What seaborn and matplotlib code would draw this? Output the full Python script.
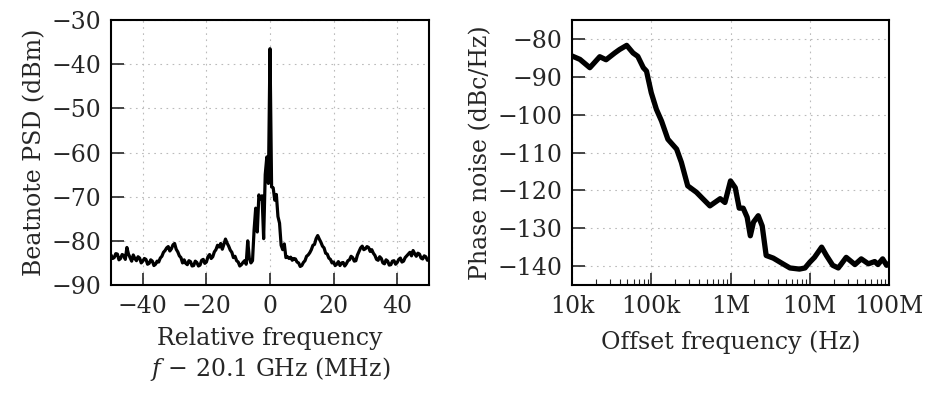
import numpy as np
import pandas as pd
import matplotlib
matplotlib.use("Agg")
import matplotlib.pyplot as plt
import matplotlib.ticker as ticker
import seaborn as sns

# beatnote spectrum: relative frequency (MHz), 0.5 MHz steps, vs PSD (dBm)
rel_freq = np.arange(-50, 50.01, 0.5)
psd = [
    # -50 ... -8.5
    -83.2, -84.0, -83.8, -82.9, -83.0, -84.3, -84.0, -83.1, -83.3, -84.2,
    -81.5, -83.0, -83.8, -84.6, -83.2, -84.0, -84.5, -83.6, -83.9, -85.0,
    -84.6, -84.0, -84.2, -85.3, -85.1, -84.3, -84.6, -85.6, -85.3, -84.6,
    -84.8, -83.9, -83.5, -82.6, -82.2, -81.6, -81.3, -82.3, -81.8, -80.9,
    -80.6, -81.9, -82.5, -83.4, -83.8, -85.0, -84.3, -85.1, -85.4, -84.5,
    -84.7, -85.7, -85.6, -84.6, -84.9, -85.7, -85.5, -84.4, -84.2, -85.1,
    -84.8, -83.6, -83.1, -84.0, -83.6, -82.5, -82.0, -81.0, -81.4, -80.6,
    -81.9, -80.8, -79.6, -80.5, -81.2, -82.1, -82.6, -83.8, -83.5, -84.5,
    -84.8, -85.7, -85.4, -84.9,
    # -8 ... 5
    -84.5, -85.3, -80.0, -84.0, -85.0, -84.5, -77.5, -72.6, -78.0, -69.6,
    -70.5, -69.8, -79.5, -65.0, -61.0, -67.0, -36.5, -67.8, -68.0, -70.8,
    -69.5, -74.5, -76.0, -81.0, -82.0, -80.7, -83.8,
    # 5.5 ... 50
    -83.6, -84.0, -83.7, -84.4, -84.0, -84.1, -84.8, -85.0, -85.8, -85.6,
    -84.9, -84.5, -83.5, -83.2, -82.7, -82.0, -81.0, -80.8, -79.5, -78.8,
    -79.6, -80.3, -81.2, -81.6, -82.8, -83.0, -83.9, -84.2, -85.0, -84.8,
    -85.6, -85.3, -84.7, -85.6, -85.0, -84.9, -85.7, -85.2, -84.5, -84.3,
    -83.5, -83.8, -84.6, -84.5, -83.2, -82.4, -81.6, -81.2, -82.0, -81.8,
    -81.3, -81.5, -82.4, -82.0, -82.8, -83.3, -84.2, -84.4, -83.6, -84.0,
    -85.0, -85.2, -84.3, -84.6, -85.5, -85.4, -84.6, -84.5, -85.3, -84.9,
    -84.2, -83.9, -84.8, -84.6, -83.8, -83.4, -83.0, -82.6, -83.4, -82.2,
    -82.9, -83.5, -82.8, -83.0, -83.9, -84.1, -83.4, -83.6, -84.4, -84.2,
]

# phase noise: log10 of offset frequency (Hz) vs dBc/Hz
log_offset = [4.0, 4.1, 4.225, 4.35, 4.43, 4.54, 4.6, 4.69, 4.77, 4.83,
              4.9, 4.94, 5.0, 5.065, 5.13, 5.21, 5.32, 5.38, 5.46, 5.57,
              5.65, 5.74, 5.87, 5.93, 6.0, 6.06, 6.11, 6.16, 6.21, 6.25,
              6.29, 6.35, 6.40, 6.45, 6.54, 6.66, 6.75, 6.87, 6.94, 7.0,
              7.06, 7.15, 7.21, 7.29, 7.36, 7.40, 7.46, 7.57, 7.65, 7.74,
              7.82, 7.86, 7.92, 7.97, 8.0]
phase_noise = [-84.5, -85.4, -87.6, -84.7, -85.5, -83.7, -82.8, -81.7, -83.7, -84.6,
               -87.6, -88.5, -94.2, -98.6, -101.7, -106.5, -109.1, -112.6, -118.8, -120.5,
               -122.2, -124.1, -122.2, -123.2, -117.5, -119.3, -124.7, -124.7, -127.1, -132.0,
               -128.4, -126.7, -129.4, -137.2, -137.9, -139.4, -140.5, -140.8, -140.5, -139.0,
               -137.7, -135.0, -137.2, -139.8, -140.5, -139.4, -137.7, -139.6, -138.1, -139.4,
               -138.8, -139.6, -138.1, -139.8, -139.4]

offset_ticks = [1e4, 1e5, 1e6, 1e7, 1e8]
offset_labels = ["10k", "100k", "1M", "10M", "100M"]

sns.set_style("white")
plt.rcParams["font.family"] = ["DejaVu Serif"]
plt.rcParams["mathtext.fontset"] = "dejavuserif"
plt.rcParams["font.size"] = 17

beat = pd.DataFrame({"f": rel_freq, "psd": psd})
pn = pd.DataFrame({"f": 10 ** np.array(log_offset), "pn": phase_noise})

fig = plt.figure(figsize=(9.26, 3.94), dpi=100)
ax1 = fig.add_axes([111 / 926, 1 - 285 / 394, 318 / 926, 265 / 394])
ax2 = fig.add_axes([572 / 926, 1 - 285 / 394, 317 / 926, 265 / 394])

sns.lineplot(data=beat, x="f", y="psd", ax=ax1, color="black", lw=2.3, sort=False)
sns.lineplot(data=pn, x="f", y="pn", ax=ax2, color="black", lw=3.8, sort=False)

ax1.set_xlim(-50, 50)
ax1.set_ylim(-90, -30)
ax1.set_xticks([-40, -20, 0, 20, 40])
ax1.set_yticks(range(-90, -29, 10))
ax1.set_xlabel("Relative frequency\n$f$ \u2212 20.1 GHz (MHz)", labelpad=7)
ax1.set_ylabel("Beatnote PSD (dBm)", labelpad=4)

ax2.set_xscale("log")
ax2.set_xlim(1e4, 1e8)
ax2.set_ylim(-145, -75)
ax2.set_xticks(offset_ticks)
ax2.set_xticklabels(offset_labels)
ax2.xaxis.set_minor_locator(ticker.LogLocator(base=10, subs=np.arange(2, 10), numticks=20))
ax2.xaxis.set_minor_formatter(ticker.NullFormatter())
ax2.set_yticks(range(-140, -79, 10))
ax2.set_xlabel("Offset frequency (Hz)", labelpad=9)
ax2.set_ylabel("Phase noise (dBc/Hz)", labelpad=4)

for ax in (ax1, ax2):
    ax.grid(True, which="major", color="#bbbbbb", lw=0.8, linestyle=(0, (1.5, 4)))
    ax.tick_params(which="major", direction="in", length=9, width=1.2,
                   top=False, right=False, bottom=True, left=True, pad=7)
    ax.tick_params(which="minor", direction="in", length=4, width=0.8,
                   top=False, right=False, bottom=True, left=False)
    for s in ax.spines.values():
        s.set_color("black")
        s.set_linewidth(1.5)

fig.savefig("out.png", dpi=100)
